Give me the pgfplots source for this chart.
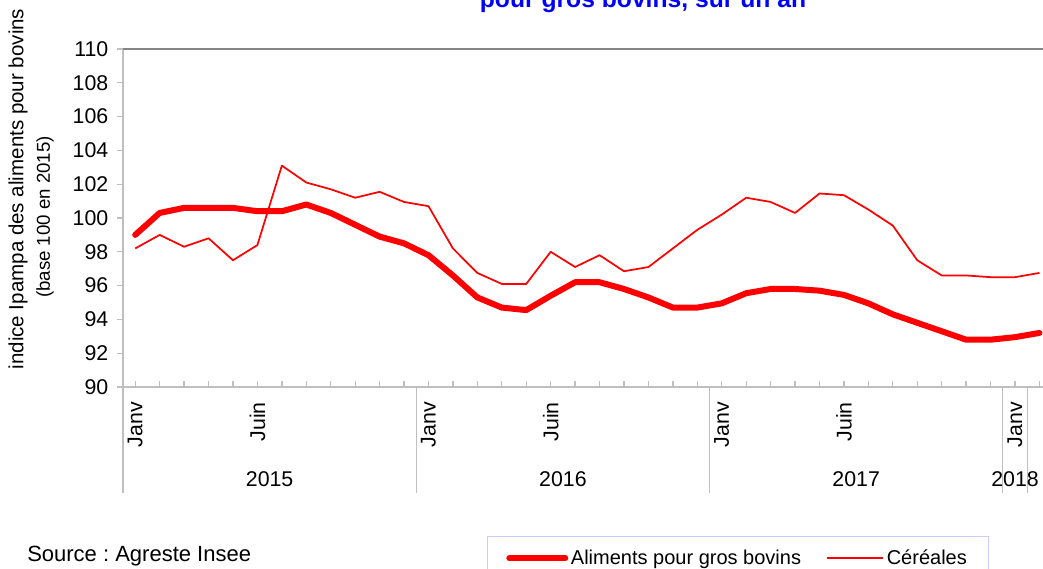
\documentclass[border=0pt]{standalone}
\usepackage{fontspec}
\setmainfont{Liberation Sans}
\usepackage{pgfplots}
\usepackage{pgfplotstable}
\pgfplotsset{compat=1.18}
\definecolor{axgray}{RGB}{191,191,191}
\definecolor{topgray}{RGB}{134,134,134}
\definecolor{legborder}{RGB}{204,204,255}
\definecolor{titleblue}{RGB}{0,0,255}
\frenchspacing

\pgfplotstableread{
i a c
0 99.0 98.2
1 100.3 99.0
2 100.6 98.3
3 100.6 98.8
4 100.6 97.5
5 100.4 98.4
6 100.4 103.1
7 100.8 102.1
8 100.3 101.7
9 99.6 101.2
10 98.9 101.55
11 98.5 100.95
12 97.8 100.7
13 96.6 98.2
14 95.3 96.75
15 94.7 96.1
16 94.55 96.1
17 95.4 98.0
18 96.2 97.1
19 96.2 97.8
20 95.8 96.85
21 95.3 97.1
22 94.7 98.2
23 94.7 99.3
24 94.95 100.2
25 95.55 101.2
26 95.8 100.95
27 95.8 100.3
28 95.7 101.45
29 95.45 101.35
30 94.95 100.5
31 94.3 99.55
32 93.8 97.5
33 93.3 96.6
34 92.8 96.6
35 92.8 96.5
36 92.95 96.5
37 93.2 96.75
}\datatable

\begin{document}
\begin{tikzpicture}
\begin{axis}[
  at={(92.25pt,-290.25pt)}, anchor=south west,
  scale only axis, width=696.5pt, height=253.5pt,
  xmin=-0.5, xmax=37.5, ymin=90, ymax=110,
  clip=false,
  axis x line*=bottom, axis y line*=left,
  axis line style={axgray, line width=1pt},
  tick style={axgray, line width=1pt},
  major tick length=4.5pt,
  xtick={0,...,37}, xticklabels={},
  xtick align=inside, ytick align=outside,
  ytick={90,92,...,110},
  yticklabel style={font=\fontsize{16}{19}\selectfont, text=black, xshift=-3pt},
  /pgf/number format/assume math mode=true,
  legend columns=2,
  legend cell align=left,
  legend style={at={(axis description cs:0.3919,-0.4408)}, anchor=north west,
    draw=legborder, line width=1pt, font=\fontsize{15}{18}\selectfont,
    inner xsep=14pt, inner ysep=8pt,
    /tikz/every even column/.append style={column sep=17pt}},
  legend image code/.code={\draw[#1] (0pt,0pt) -- (42pt,0pt);},
]
\addplot[red, line width=4.5pt, line join=round, line cap=round] table[x=i, y=a] {\datatable};
\addlegendentry{Aliments pour gros bovins}
\addplot[red, line width=1.3pt, line join=round] table[x=i, y=c] {\datatable};
\addlegendentry{Céréales}

\draw[topgray, line width=1pt] (axis cs:-0.5,110) -- (axis cs:37.5,110);

\coordinate (s0) at (axis cs:-0.5,90);
\coordinate (s1) at (axis cs:11.5,90);
\coordinate (s2) at (axis cs:23.5,90);
\coordinate (s3) at (axis cs:35.5,90);
\coordinate (s4) at (axis cs:36.5,90);
\coordinate (m0) at (axis cs:0,90);
\coordinate (m5) at (axis cs:5,90);
\coordinate (m12) at (axis cs:12,90);
\coordinate (m17) at (axis cs:17,90);
\coordinate (m24) at (axis cs:24,90);
\coordinate (m29) at (axis cs:29,90);
\coordinate (m36) at (axis cs:36,90);
\coordinate (y15) at (axis cs:5.5,90);
\coordinate (y16) at (axis cs:17.5,90);
\coordinate (y17) at (axis cs:29.5,90);
\coordinate (y18) at (axis cs:36,90);
\end{axis}

\foreach \s in {s0,s1,s2,s3,s4}{
  \draw[axgray, line width=1pt] (\s) -- ++(0,-79.5pt);
}
\foreach \m/\lab in {m0/Janv,m5/Juin,m12/Janv,m17/Juin,m24/Janv,m29/Juin,m36/Janv}{
  \path (\m) ++(0,-11.25pt) node[rotate=90, anchor=east, inner sep=0pt, font=\fontsize{16}{19}\selectfont]{\lab};
}
\foreach \m/\lab in {y15/2015,y16/2016,y17/2017,y18/2018}{
  \path (\m) ++(0,-69pt) node[anchor=center, inner sep=0pt, font=\fontsize{16}{19}\selectfont]{\lab};
}

\begin{scope}[x=0.75pt, y=-0.75pt]
\node[anchor=base, inner sep=0pt, text=titleblue, font=\bfseries\fontsize{18.5}{22}\selectfont] at (643,7) {pour gros bovins, sur un an};
\node[rotate=90, inner sep=0pt, font=\fontsize{15.4}{18}\selectfont] at (18,189) {indice Ipampa des aliments pour bovins};
\node[rotate=90, inner sep=0pt, font=\fontsize{14}{18}\selectfont] at (45,217) {(base 100 en 2015)};
\node[anchor=base west, inner sep=0pt, font=\fontsize{16.5}{19}\selectfont] at (27,561) {Source : Agreste Insee};
\pgfresetboundingbox
\path[use as bounding box] (0,0) rectangle (1043,568);
\end{scope}
\end{tikzpicture}
\end{document}
